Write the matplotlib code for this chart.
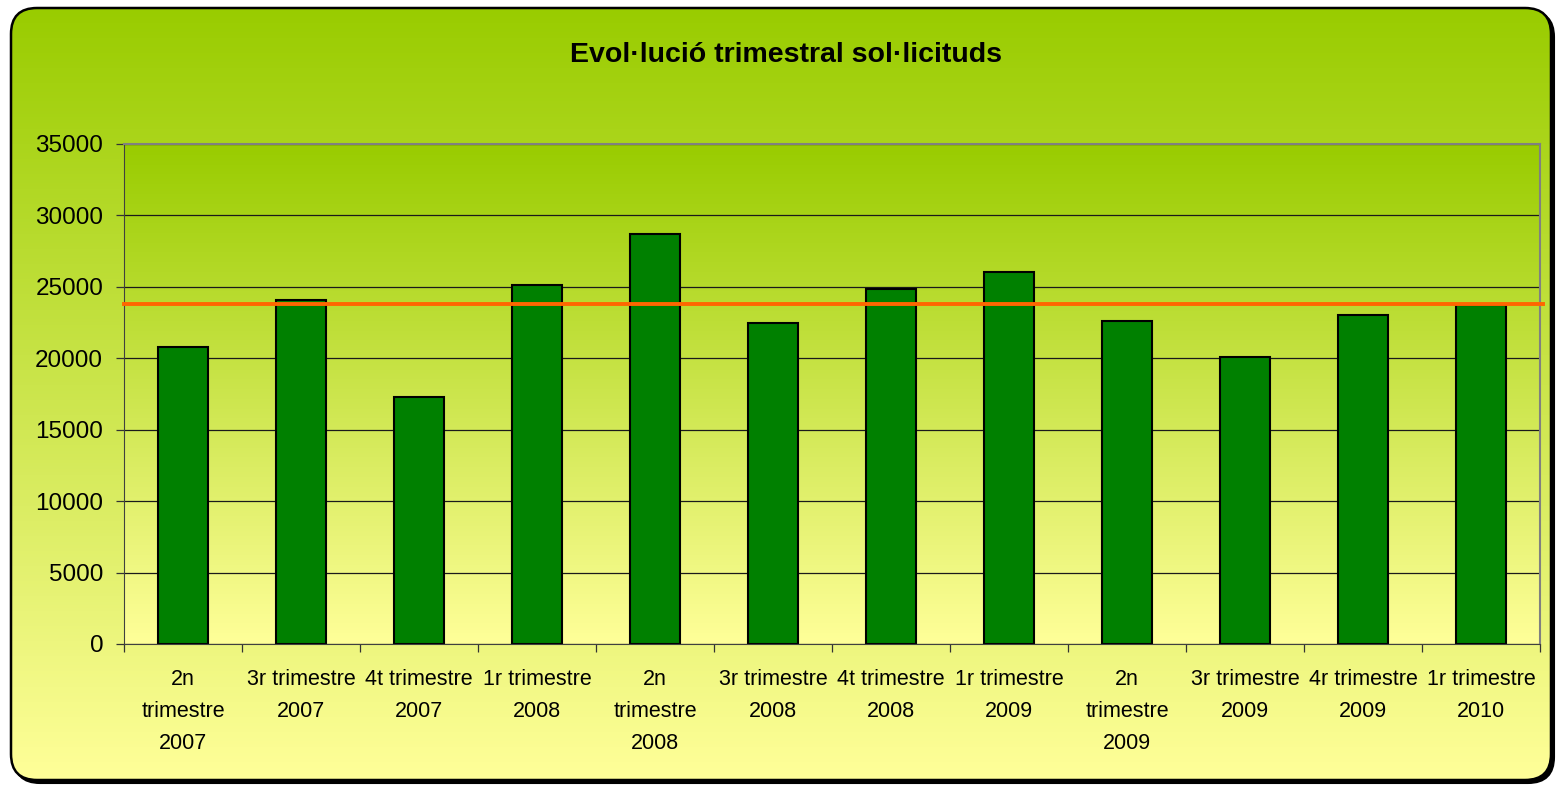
import numpy as np
import matplotlib
matplotlib.use("Agg")
import matplotlib.pyplot as plt
from matplotlib.patches import FancyBboxPatch
from matplotlib.colors import LinearSegmentedColormap

plt.rcParams['font.family'] = ['Liberation Sans', 'DejaVu Sans']

# dades
trimestres = ["2n\ntrimestre\n2007", "3r trimestre\n2007", "4t trimestre\n2007",
              "1r trimestre\n2008", "2n\ntrimestre\n2008", "3r trimestre\n2008",
              "4t trimestre\n2008", "1r trimestre\n2009", "2n\ntrimestre\n2009",
              "3r trimestre\n2009", "4r trimestre\n2009", "1r trimestre\n2010"]
sollicituds = [20800, 24100, 17300, 25100, 28700, 22450,
               24850, 26050, 22600, 20100, 23000, 23750]
mitjana = 23800
yticks = [0, 5000, 10000, 15000, 20000, 25000, 30000, 35000]

W, H = 1560, 785
fig = plt.figure(figsize=(W / 100, H / 100), dpi=100)

verd = LinearSegmentedColormap.from_list("verd", ["#FFFF99", "#99CC00"])
grad = np.linspace(0, 1, 256).reshape(-1, 1)

# fons arrodonit amb ombra
bg = fig.add_axes([0, 0, 1, 1], zorder=-5)
bg.set_xlim(0, W)
bg.set_ylim(H, 0)
bg.axis('off')
shadow = FancyBboxPatch((14, 11), 1540, 772, boxstyle="round,pad=0,rounding_size=26",
                        fc='black', ec='black', lw=1.5)
bg.add_patch(shadow)
box = FancyBboxPatch((11, 8), 1540, 772, boxstyle="round,pad=0,rounding_size=26",
                     fc='none', ec='black', lw=1.8, zorder=3)
bg.add_patch(box)
img = bg.imshow(grad[::-1], cmap=verd, aspect='auto', extent=(11, 1551, 780, 8), zorder=2)
img.set_clip_path(FancyBboxPatch((11, 8), 1540, 772, boxstyle="round,pad=0,rounding_size=26",
                                 transform=bg.transData))

ax = fig.add_axes([124 / W, 1 - 644 / H, (1540 - 124) / W, 500 / H])
ax.set_facecolor('none')
x = np.arange(len(trimestres))
ax.imshow(grad, cmap=verd, aspect='auto', extent=(-0.5, 11.5, 0, 35000),
          origin='lower', zorder=0)
ax.bar(x, sollicituds, width=0.42, color='#008000', edgecolor='black', lw=1.5, zorder=2)
ax.axhline(mitjana, xmin=0, xmax=1.002, color='#FF6600', lw=2.8, zorder=3, clip_on=False)

ax.set_xlim(-0.5, 11.5)
ax.set_ylim(0, 35000)
ax.set_yticks(yticks)
ax.set_yticklabels([str(v) for v in yticks], fontsize=17.5)
ax.yaxis.grid(True, color='#1a1a1a', lw=0.9)
ax.set_axisbelow(True)
ax.set_xticks(x)
ax.set_xticklabels(trimestres, fontsize=15.5, linespacing=1.68)
ax.set_xticks(np.arange(-0.5, 12, 1), minor=True)
ax.tick_params(axis='x', which='major', length=0, pad=18)
ax.tick_params(axis='x', which='minor', length=6, width=0.9, color='#333333')
ax.tick_params(axis='y', length=6, width=0.9, color='#333333', pad=9)

ax.spines['left'].set_color('#404040')
ax.spines['bottom'].set_color('#404040')
ax.spines['top'].set_color('#808080')
ax.spines['right'].set_color('#808080')
ax.spines['top'].set_linewidth(1.5)
ax.spines['right'].set_linewidth(1.5)

fig.text(786 / W, 1 - 55 / H, "Evol·lució trimestral sol·licituds", fontsize=20.5,
         fontweight='bold', ha='center', va='center')

fig.savefig("out.png", dpi=100)
